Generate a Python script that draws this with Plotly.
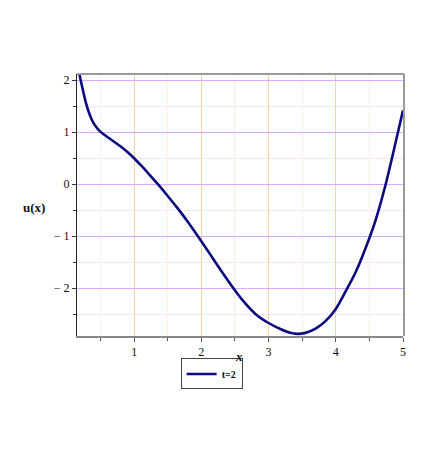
import plotly.graph_objects as go

x_vals = [0.16, 0.205, 0.25, 0.29, 0.33, 0.37, 0.43, 0.49, 0.55, 0.65, 0.8, 0.9, 1.0, 1.1, 1.2, 1.35, 1.5, 1.66,
          1.8, 2.0, 2.16, 2.3, 2.48, 2.6, 2.8, 3.0, 3.2, 3.32, 3.43, 3.55, 3.7, 3.85, 4.0, 4.16, 4.3, 4.51,
          4.6, 4.735, 4.9, 5.0]
u_vals = [2.28, 2.0, 1.74, 1.53, 1.37, 1.24, 1.11, 1.02, 0.955, 0.865, 0.725, 0.62, 0.5, 0.365, 0.225, 0.005,
          -0.226, -0.485, -0.726, -1.096, -1.405, -1.675, -2.008, -2.212, -2.49, -2.67, -2.8, -2.858, -2.88,
          -2.86, -2.78, -2.63, -2.40, -2.03, -1.68, -1.0, -0.66, -0.04, 0.86, 1.42]

x_ticks = [1, 2, 3, 4, 5]
x_ticktext = ["1", "2", "3", "4", "5"]
y_ticks = [-2, -1, 0, 1, 2]
y_ticktext = ["\u2212 2", "\u2212 1", "0", "1", "2"]

serif = "Liberation Serif, Times New Roman, serif"

fig = go.Figure()
fig.add_trace(go.Scatter(x=x_vals, y=u_vals, mode="lines", name="<b>t=2</b>",
                         line=dict(color="#0b0b80", width=2.6, shape="spline", smoothing=0.8)))

fig.update_layout(
    width=436, height=452,
    margin=dict(l=69, r=41, t=66, b=124),
    plot_bgcolor="white", paper_bgcolor="white",
    font=dict(family=serif, size=12, color="#111"),
    showlegend=True,
    legend=dict(orientation="h", x=0.413, xanchor="center", y=-0.145, yanchor="middle",
                bordercolor="#444", borderwidth=1, font=dict(family=serif, size=10, color="#111"),
                itemwidth=30, tracegroupgap=0),
    xaxis=dict(range=[0.15, 5.0], tickvals=x_ticks, ticktext=x_ticktext,
               showgrid=True, gridcolor="#ffcf9c", gridwidth=1,
               ticks="outside", ticklen=4, tickcolor="#555",
               showline=True, linecolor="#888", linewidth=1.5,
               zeroline=False,
               minor=dict(dtick=0.5, showgrid=True, gridcolor="#fff0e2", ticks="outside", ticklen=3, tickcolor="#555"),
               tickfont=dict(family=serif, size=12, color="#111")),
    yaxis=dict(range=[-2.92, 2.12], tickvals=y_ticks, ticktext=y_ticktext,
               showgrid=True, gridcolor="#d9aaff", gridwidth=1,
               ticks="outside", ticklen=4, tickcolor="#333",
               showline=True, linecolor="#222", linewidth=1.2,
               zeroline=False,
               minor=dict(dtick=0.5, showgrid=True, gridcolor="#f3e6ff", ticks="outside", ticklen=3, tickcolor="#333"),
               tickfont=dict(family=serif, size=12, color="#111")),
    shapes=[
        dict(type="line", xref="paper", yref="paper", x0=0, x1=1.003, y0=1, y1=1,
             line=dict(color="#999", width=2)),
        dict(type="line", xref="paper", yref="paper", x0=1.003, x1=1.003, y0=0, y1=1,
             line=dict(color="#999", width=2)),
    ],
    annotations=[
        dict(text="<b><i>x</i></b>", xref="paper", yref="paper", x=0.498, y=-0.08,
             xanchor="center", yanchor="middle",
             showarrow=False, font=dict(family=serif, size=13, color="#111")),
        dict(text="<b>u(x)</b>", xref="paper", yref="paper", x=-0.132, y=0.49,
             xanchor="center", yanchor="middle", showarrow=False, font=dict(family=serif, size=13, color="#111")),
    ],
)

fig.write_html("out.html")
